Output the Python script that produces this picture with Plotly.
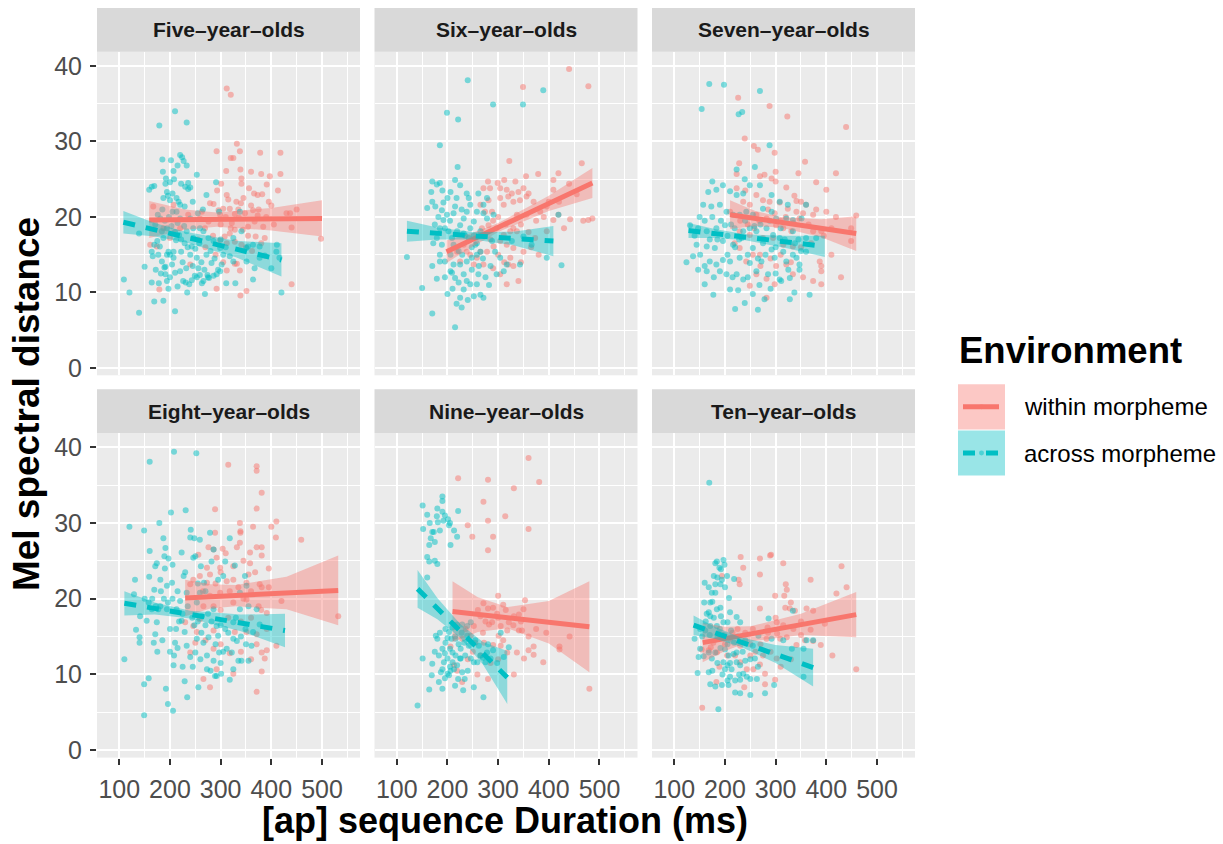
import plotly.graph_objects as go

W, H = 1223, 844
FONT = "Liberation Sans, Arial, sans-serif"
RED = "248,118,109"
CYAN = "0,191,196"

# ---------------- data ----------------
panel_titles = ["Five\u2013year\u2013olds", "Six\u2013year\u2013olds", "Seven\u2013year\u2013olds",
                "Eight\u2013year\u2013olds", "Nine\u2013year\u2013olds", "Ten\u2013year\u2013olds"]
legend_labels = ["within morpheme", "across morpheme"]
x_ticks = [100, 200, 300, 400, 500]
y_ticks = [0, 10, 20, 30, 40]

five_within = [(312,37.0),(320,36.2),(332,29.7),(292,28.7),(320,27.8),(325,27.8),(338,28.7),(378,28.5),(418,28.5),(311,26.1),(339,26.3),(341,25.1),(341,24.4),(380,25.7),(397,25.4),(418,25.7),(301,24.4),(293,23.5),(312,22.9),(315,22.3),(331,22.0),(340,21.8),(356,23.8),(366,23.1),(373,22.9),(382,23.0),(391,24.3),(413,23.5),(279,21.8),(286,21.7),(296,20.9),(305,21.1),(318,21.1),(328,20.4),(336,19.9),(348,20.5),(364,20.9),(373,20.2),(367,19.4),(384,18.7),(354,18.7),(344,18.3),(328,18.3),(318,17.8),(308,17.4),(299,16.9),(312,16.5),(328,16.7),(341,16.3),(354,17.5),(369,17.4),(387,17.2),(430,20.5),(437,20.5),(450,21.0),(440,18.6),(498,17.1),(440,11.1),(339,9.6),(351,10.2),(292,10.5),(179,10.4),(240,13.7),(328,13.8),(332,13.8),(338,12.9),(312,12.9),(299,20.3),(276,19.4),(263,20.7),(236,20.3),(220,18.5),(207,21.6),(167,21.4),(161,16.3),(174,16.1),(187,18.5),(200,17.2),(259,19.8),(269,18.5),
               (300,19.0),(310,20.0),(322,19.2),(335,21.0),(345,22.5),(360,21.5),(375,21.0),(390,20.0),(405,19.0),(350,16.0),(362,15.5),(380,16.5),(395,22.0),(285,17.5),(270,16.0),(255,17.0),(290,15.0),(305,14.0),(320,18.5),(360,26.0),(400,21.5)]
five_across = [(109,11.7),(120,10.0),(139,7.3),(139,17.8),(150,13.4),(159,23.6),(164,24.0),(169,24.1),(164,11.3),(169,8.8),(179,32.1),(185,27.6),(187,8.9),(189,13.3),(191,13.4),(194,11.5),(197,10.5),(207,26.1),(233,32.5),(210,34.0),(210,7.5),(220,28.2),(224,27.9),(227,27.4),(233,26.8),(222,24.4),(236,24.5),(253,25.6),(236,23.7),(240,23.9),(196,22.8),(200,22.2),(205,20.7),(213,22.5),(217,22.0),(177,15.0),(180,16.1),(187,17.2),(184,18.1),(194,18.5),(197,15.4),(200,15.0),(207,14.6),(204,13.7),(210,12.6),(220,12.8),(226,11.5),(231,11.3),(234,10.0),(238,11.1),(243,11.6),(249,12.2),(253,12.0),(259,12.3),(263,11.2),(266,11.5),(269,9.8),(274,12.3),(277,11.9),(286,12.2),(292,12.4),(299,12.8),(302,13.7),(311,11.2),(329,11.2),(325,14.1),(338,20.7),(354,16.1),(364,11.7),(367,13.2),(400,13.2),(411,16.3),(420,10.0),(410,15.4),(416,14.6),(272,22.9),(291,24.6),(297,20.7),(259,18.5),(233,18.1),(246,17.2),(253,14.6),(256,13.2),(272,15.0),(282,13.9),(243,16.1),(229,16.5),(222,15.4),(218,17.6),(176,20.3),(171,19.0),(181,19.8),(187,22.5),(194,23.3),(192,25.1),(191,24.4),(200,24.6),(205,23.1),(213,20.7),(220,19.8),(175,16.8),(169,16.3),(164,15.4),(166,14.8),(184,14.1),(191,12.4),(194,15.0),(207,15.4),(212,16.9),(220,21.6),(229,21.4),(240,19.8),(246,18.5),(266,18.1),(276,17.2),(286,16.8),(299,15.9),(325,17.2),(341,18.1),(351,15.9),(364,16.3),(377,16.1),(387,14.9),(377,14.6),(351,14.1),(305,15.0),
               (185,21.0),(190,19.5),(198,20.0),(203,18.8),(210,18.0),(215,19.2),(222,17.0),(228,18.8),(235,16.0),(240,15.0),(245,13.5),(250,15.8),(258,16.5),(262,14.0),(268,13.0),(275,12.0),(280,15.5),(288,14.5),(295,13.0),(300,17.0),(310,16.0),(318,14.8),(182,12.5),(178,11.2),(172,13.0),(186,26.0),(202,27.5),(208,25.0),(215,26.8),(230,24.0),(245,22.0),(255,20.5),(265,21.0),(200,12.0),(215,10.8),(225,14.0),(232,13.2)]

six_within = [(440,39.6),(478,37.3),(349,37.2),(322,27.4),(465,27.1),(419,25.8),(379,25.7),(409,24.9),(355,25.4),(299,24.5),(312,24.9),(334,24.7),(280,24.7),(271,23.8),(284,23.8),(304,23.8),(317,23.6),(327,23.1),(340,23.3),(350,23.8),(360,23.1),(304,22.5),(320,22.7),(330,22.0),(343,22.2),(356,22.7),(370,22.0),(409,23.6),(440,24.4),(281,22.2),(265,21.6),(274,20.7),(288,20.7),(311,21.6),(337,20.3),(356,20.3),(383,20.7),(396,21.4),(419,20.3),(442,19.7),(430,18.5),(409,19.6),(468,19.5),(478,19.6),(486,19.8),(268,18.5),(281,18.9),(297,18.5),(311,17.6),(324,18.1),(337,18.1),(350,15.4),(330,15.9),(317,16.3),(304,16.8),(291,16.1),(278,15.4),(265,15.4),(252,13.7),(271,13.7),(290,13.2),(304,12.4),(317,11.1),(340,11.5),(324,14.6),(320,13.7),(258,14.6),(245,15.0),(225,14.1),(219,15.4),(232,16.3),(238,15.4),(373,17.2),(396,18.1),
              (290,19.5),(300,20.0),(315,19.0),(330,18.5),(345,19.0),(360,18.0),(375,19.5),(390,20.0),(400,22.0),(285,17.0),(300,15.0),(312,14.0),(330,13.5),(345,14.0),(365,16.0),(380,15.0),(420,22.0),(455,23.0)]
six_across = [(120,14.7),(150,10.6),(170,7.2),(215,5.4),(185,29.5),(199,33.8),(221,32.9),(240,38.1),(290,34.9),(349,34.9),(389,36.8),(220,26.6),(170,24.7),(179,24.3),(168,23.3),(160,21.2),(170,22.0),(176,21.4),(189,20.9),(192,21.9),(206,23.3),(215,24.9),(225,24.2),(238,23.1),(242,22.5),(199,20.3),(192,19.6),(185,18.5),(179,17.2),(172,16.5),(189,16.3),(185,15.0),(170,13.5),(179,11.8),(185,14.1),(195,14.1),(206,12.8),(209,12.6),(215,11.9),(222,11.3),(225,9.3),(232,10.4),(238,11.5),(245,11.1),(252,9.5),(258,11.1),(265,9.7),(271,9.3),(261,12.4),(248,13.0),(232,12.4),(225,13.7),(212,13.7),(229,15.0),(238,14.1),(248,14.6),(258,15.0),(265,15.4),(212,16.3),(219,18.1),(225,18.9),(232,19.8),(238,20.7),(245,21.6),(252,19.4),(258,20.7),(265,18.1),(271,20.5),(278,19.8),(291,20.3),(261,23.1),(271,21.6),(278,22.5),(288,16.8),(294,15.4),(297,12.4),(304,14.6),(311,12.8),(317,13.7),(327,16.8),(343,13.7),(350,17.4),(366,16.3),(396,14.6),(419,20.3),(425,13.6),(215,21.4),(202,18.1),(209,17.2),(242,17.2),(255,16.3),(206,15.0),
              (175,19.0),(182,20.0),(195,18.5),(205,19.5),(212,20.5),(218,22.5),(228,21.0),(235,17.5),(245,18.5),(252,17.5),(258,16.5),(262,13.5),(270,14.5),(275,12.0),(282,11.0),(285,13.5),(195,12.0),(200,9.8),(210,10.5),(218,8.5),(228,8.0),(240,9.0),(248,16.0),(232,17.8),(222,15.5),(200,22.5),(190,23.5),(185,24.5)]

seven_within = [(226,35.8),(288,34.7),(323,33.3),(439,31.9),(239,30.4),(257,29.4),(265,28.9),(298,28.5),(228,27.1),(358,27.3),(419,25.8),(345,25.8),(223,25.7),(269,25.4),(278,25.6),(292,25.1),(300,24.7),(321,23.9),(380,24.6),(400,23.6),(337,22.8),(341,22.1),(360,21.6),(374,20.3),(262,22.9),(275,22.2),(288,22.0),(308,21.9),(324,21.1),(341,20.7),(354,20.5),(400,20.7),(419,20.0),(459,20.2),(449,18.5),(449,16.8),(223,23.8),(236,22.0),(249,21.6),(262,20.3),(282,19.8),(301,18.9),(315,18.5),(331,18.1),(347,19.8),(374,18.1),(390,18.1),(229,18.1),(249,17.6),(275,17.2),(295,17.2),(315,16.3),(334,16.1),(387,14.1),(390,13.5),(390,12.8),(410,15.0),(429,12.0),(390,11.1),(374,11.5),(354,12.0),(334,12.4),(321,13.7),(301,13.5),(282,11.8),(262,12.4),(249,10.9),(298,11.1),(282,9.3),(269,15.0),(229,15.9),(219,16.5),(242,14.1),(210,20.7),
                (230,19.5),(245,19.0),(258,18.5),(268,19.5),(285,21.0),(298,20.5),(310,19.5),(320,20.0),(335,19.2),(350,22.0),(365,19.0),(380,21.0),(395,17.5),(410,18.5),(255,15.0),(270,13.5),(290,14.5),(310,15.0),(330,14.0),(350,16.0),(370,16.5),(240,23.5),(300,26.0)]
seven_across = [(169,37.6),(198,37.5),(269,36.7),(154,34.3),(227,33.6),(234,33.9),(288,29.5),(259,26.6),(223,26.3),(239,25.0),(175,24.7),(167,23.3),(183,23.6),(196,24.2),(210,23.4),(223,22.9),(236,23.1),(249,24.2),(269,24.2),(292,22.9),(308,22.0),(324,21.6),(360,21.6),(157,21.6),(173,21.4),(190,21.6),(203,20.7),(216,20.3),(229,20.3),(242,20.7),(255,20.3),(275,21.1),(292,20.7),(301,19.8),(321,19.8),(334,19.6),(351,19.8),(131,18.9),(147,18.5),(164,18.1),(183,18.5),(200,18.9),(219,18.5),(236,18.1),(249,18.5),(262,18.1),(282,18.5),(295,17.6),(308,17.2),(334,18.1),(360,17.2),(380,17.2),(144,16.3),(164,16.1),(180,15.9),(196,16.8),(216,16.3),(233,17.2),(255,15.9),(275,16.5),(292,15.7),(315,15.4),(334,15.0),(124,14.0),(137,14.8),(151,15.0),(170,14.1),(183,13.7),(196,14.3),(210,14.1),(229,14.6),(249,13.9),(272,14.1),(298,14.6),(321,14.1),(347,13.7),(147,13.0),(164,12.8),(190,12.8),(203,12.4),(223,12.4),(236,11.7),(262,12.8),(285,12.4),(308,11.7),(328,11.9),(347,13.0),(367,9.7),(160,11.1),(177,9.7),(210,10.4),(226,10.3),(255,9.8),(278,9.1),(265,7.7),(239,8.6),(220,7.8),(328,9.1),(337,10.0),(311,11.5),(341,14.6),(360,15.4),
                (140,17.5),(150,20.0),(160,19.5),(170,17.0),(175,20.0),(185,17.0),(192,19.5),(205,17.5),(212,19.0),(220,16.0),(228,17.0),(240,19.5),(245,15.0),(258,18.8),(265,14.5),(270,19.0),(280,15.0),(288,19.5),(300,16.0),(310,18.5),(318,17.0),(325,13.0),(338,16.5),(345,17.0),(350,15.5),(205,15.0),(215,12.0),(245,12.0),(268,11.0),(290,10.5),(300,12.5),(160,13.5),(178,12.0)]

eight_within = [(315,37.7),(371,37.5),(371,36.9),(381,34.0),(371,31.9),(289,31.8),(338,30.0),(364,29.5),(410,30.2),(400,29.5),(339,28.9),(339,28.7),(289,28.7),(459,27.8),(409,28.1),(338,27.4),(371,26.8),(381,26.8),(358,26.1),(381,25.7),(332,26.8),(304,26.6),(286,26.5),(276,26.8),(256,25.8),(292,25.4),(273,24.1),(299,24.1),(325,24.3),(358,24.7),(368,23.5),(355,23.2),(279,23.2),(259,23.0),(246,22.5),(240,21.9),(273,22.1),(312,22.3),(325,22.5),(351,22.1),(377,21.9),(381,21.5),(299,20.8),(279,20.4),(286,19.0),(266,19.0),(325,19.5),(351,19.9),(420,19.7),(532,17.7),(230,16.9),(246,16.4),(253,15.6),(286,15.8),(328,15.6),(351,15.6),(371,15.3),(391,18.1),(391,16.0),(371,14.0),(381,12.9),(391,13.2),(387,12.1),(318,12.8),(286,13.4),(292,10.7),(266,9.4),(279,8.3),(371,7.7),(381,10.4),(410,13.8),(325,10.1),(250,14.2),(240,12.9),(259,17.3),
                (290,22.0),(300,23.5),(318,21.0),(335,21.5),(345,20.0),(360,21.0),(375,19.0),(395,21.5),(265,21.0),(300,18.5),(315,17.5),(340,17.0),(360,17.5),(380,18.5),(270,14.5),(300,14.0),(340,13.0),(360,12.0),(310,26.0),(345,25.0),(395,24.0)]
eight_across = [(110,12.0),(120,29.5),(129,20.6),(131,22.5),(133,15.9),(140,14.9),(140,14.2),(149,29.0),(149,8.7),(149,4.6),(158,9.5),(160,38.1),(160,26.3),(159,22.9),(164,18.6),(171,24.3),(169,21.2),(171,15.3),(174,16.9),(179,30.0),(181,22.5),(187,28.0),(191,26.7),(189,25.6),(192,8.1),(196,6.1),(197,25.3),(202,31.4),(206,5.2),(208,39.4),(204,22.1),(208,12.5),(207,11.2),(212,16.0),(213,18.6),(220,19.7),(223,26.1),(227,23.0),(229,9.1),(231,31.7),(234,7.0),(241,29.1),(240,28.1),(246,25.4),(250,25.6),(248,28.0),(252,39.2),(253,19.5),(253,14.7),(256,8.3),(259,27.8),(261,24.3),(263,17.7),(267,22.1),(273,12.5),(276,14.9),(279,28.7),(282,24.9),(286,26.5),(289,9.8),(292,16.4),(295,22.5),(297,12.9),(301,10.1),(305,23.0),(309,24.9),(312,13.4),(318,28.0),(318,9.3),(322,12.9),(325,16.9),(328,24.4),(332,14.4),(335,11.8),(338,18.6),(341,11.8),(348,23.0),(349,16.0),(355,11.8),(361,13.8),(364,15.6),(371,18.6),(377,16.6),(141,17.7),(154,17.1),(168,14.2),(181,19.0),(194,18.6),(200,16.0),(210,14.2),(223,17.1),(229,15.6),(233,13.8),(240,12.3),(250,12.9),(266,14.2),(273,10.7),(286,11.8),(295,15.1),(309,16.0),(325,10.7),(286,18.6),(259,20.8),(233,20.8),(194,21.7),(174,24.7),(292,9.8),(325,14.7),(355,19.0),(351,21.7),(338,20.8),(177,18.6),
                (150,20.0),(158,19.5),(165,20.0),(172,19.0),(182,21.0),(188,20.0),(196,19.5),(205,20.0),(215,21.0),(218,17.0),(225,18.0),(235,19.0),(244,17.5),(248,16.5),(255,17.0),(262,15.5),(270,16.5),(275,18.0),(282,17.0),(290,14.0),(300,16.5),(305,13.0),(315,15.5),(330,17.5),(340,15.0),(350,14.0),(200,13.0),(215,13.5),(225,11.0),(245,11.0),(260,12.0),(280,10.5),(300,11.5),(190,24.0),(205,24.5),(230,23.5),(255,22.0),(270,21.0),(185,14.5),(175,13.0)]

nine_within = [(360,38.6),(221,35.9),(280,35.7),(331,34.6),(381,35.4),(271,32.8),(280,30.3),(314,30.9),(240,29.7),(360,29.2),(249,28.2),(290,28.2),(280,26.4),(300,20.4),(310,19.2),(271,19.4),(280,18.7),(353,19.8),(350,18.6),(341,17.9),(298,18.0),(288,16.9),(331,17.7),(341,15.8),(347,15.8),(318,15.8),(301,15.1),(282,16.6),(252,16.4),(236,16.0),(229,14.7),(255,14.2),(272,14.2),(290,13.9),(305,13.8),(318,12.9),(337,12.9),(351,12.1),(360,13.2),(370,12.6),(370,13.7),(389,11.6),(421,13.7),(421,13.3),(441,15.0),(480,8.1),(331,10.0),(280,9.4),(259,10.0),(229,9.0),(219,10.5),(213,11.2),(206,13.7),(305,16.4),(321,16.9),(265,17.7),(246,15.1),
               (260,18.5),(275,17.0),(290,18.8),(300,17.5),(315,18.5),(330,16.5),(345,17.0),(360,15.0),(375,16.0),(395,15.5),(250,13.0),(265,12.5),(285,11.5),(300,12.0),(310,14.5),(240,12.0),(270,15.5)]
nine_across = [(141,5.9),(151,32.3),(152,29.2),(160,31.1),(164,27.1),(167,28.0),(170,28.8),(173,28.8),(180,31.9),(179,30.9),(181,30.1),(190,33.5),(190,32.9),(190,31.5),(192,30.3),(201,30.5),(203,29.7),(213,29.0),(219,28.2),(221,31.6),(206,27.1),(160,25.5),(164,24.9),(180,24.6),(160,22.8),(151,12.1),(164,8.0),(169,9.9),(170,11.4),(177,15.1),(180,14.7),(183,12.5),(187,10.3),(190,8.1),(190,13.4),(193,11.6),(196,14.2),(200,12.1),(203,9.9),(205,13.4),(208,14.7),(210,11.6),(213,10.7),(216,12.5),(219,11.2),(221,9.4),(225,12.1),(229,10.3),(231,7.9),(234,9.4),(226,13.4),(233,14.2),(239,15.1),(246,12.1),(252,8.3),(252,11.6),(259,11.6),(265,12.5),(271,7.0),(275,11.6),(278,12.9),(285,12.1),(305,15.5),(311,12.3),(321,13.6),(196,16.0),(203,15.6),(210,16.2),(219,16.6),(229,16.6),(239,16.4),(246,16.9),(216,14.7),(210,12.9),(226,12.1),(190,10.7),(200,10.1),(206,10.5),
               (175,13.0),(185,15.5),(195,12.8),(200,14.8),(205,11.0),(215,15.0),(222,14.0),(228,15.5),(235,12.5),(242,13.8),(255,14.5),(262,13.8),(270,12.2),(280,14.0),(290,13.2),(298,11.5),(183,9.0),(195,9.5),(215,8.5),(240,10.5),(175,27.5),(185,29.0),(195,31.0),(205,30.0),(165,30.0),(175,25.0)]

ten_within = [(291,25.8),(289,25.7),(231,25.5),(269,25.3),(315,24.7),(430,24.3),(236,24.1),(269,23.2),(369,22.5),(227,22.5),(229,21.9),(194,23.0),(440,21.5),(320,21.9),(299,20.4),(317,20.4),(322,21.2),(420,20.7),(330,19.5),(328,18.7),(361,18.7),(319,18.8),(269,18.7),(374,18.4),(338,18.4),(397,16.7),(302,16.9),(284,16.2),(303,15.4),(350,15.2),(369,15.9),(358,14.5),(374,14.4),(389,13.9),(412,12.5),(459,10.7),(341,13.9),(322,14.9),(309,14.7),(282,14.7),(250,14.0),(230,13.8),(210,14.7),(191,15.1),(177,14.2),(172,13.6),(154,13.3),(168,13.2),(184,12.9),(204,12.5),(230,11.6),(243,10.7),(256,10.7),(269,11.3),(279,10.1),(299,9.3),(279,8.7),(238,8.3),(189,11.0),(183,9.0),(155,5.6),(250,12.5),(302,12.1),
              (200,14.0),(215,15.5),(225,16.0),(240,15.5),(255,16.0),(270,14.0),(285,15.5),(300,17.5),(315,16.5),(335,16.0),(350,17.0),(260,13.0),(275,12.5),(290,13.0),(220,12.5),(310,11.0),(330,12.0)]
ten_across = [(169,35.3),(181,24.7),(184,24.9),(192,23.9),(197,25.1),(199,24.5),(189,24.1),(204,23.0),(218,22.6),(194,22.5),(181,21.9),(191,21.9),(160,22.1),(168,21.5),(174,20.8),(181,20.8),(159,19.5),(171,19.5),(175,19.6),(164,18.0),(168,18.2),(171,17.7),(184,18.6),(191,18.8),(192,17.7),(208,20.1),(210,18.2),(205,16.9),(223,17.6),(230,16.9),(151,16.0),(161,15.8),(171,16.4),(184,16.4),(197,16.9),(140,14.7),(151,13.4),(148,12.3),(158,12.4),(168,12.9),(174,12.1),(181,12.9),(191,13.5),(200,13.3),(207,12.5),(217,12.7),(223,12.9),(197,11.6),(205,11.2),(213,10.7),(223,11.6),(230,11.2),(236,10.1),(243,9.7),(250,9.4),(263,9.4),(230,9.3),(220,9.2),(205,9.2),(200,10.7),(210,9.7),(207,8.6),(194,8.6),(187,5.4),(171,8.7),(181,8.4),(146,10.2),(168,10.3),(220,7.6),(230,7.5),(250,7.3),(279,7.5),(297,8.6),(286,17.4),(334,18.4),(315,14.5),(332,13.4),(355,13.4),(361,14.5),(374,14.5),(355,9.7),(259,12.1),(266,15.1),(292,14.7),
              (155,15.0),(162,17.0),(170,15.2),(178,17.5),(185,14.8),(190,16.0),(198,15.2),(205,14.0),(212,15.8),(218,14.2),(225,15.0),(235,13.0),(240,14.5),(250,12.0),(255,13.8),(265,11.0),(175,10.5),(185,11.5),(195,10.0),(210,11.5),(228,10.0),(240,11.8),(178,23.0),(185,22.8),(200,21.5)]

# fitted lines (end points) and confidence bands (read at a few x positions)
five_within_fit = dict(x=[159, 500], y=[19.6, 19.8], bx=[159, 230, 292, 400, 500], lo=[17.2, 18.3, 18.7, 18.2, 17.4], hi=[22.1, 21.0, 20.6, 21.2, 22.2])
five_across_fit = dict(x=[108, 420], y=[19.3, 14.3], bx=[108, 170, 230, 330, 420], lo=[17.8, 17.4, 16.65, 14.65, 12.1], hi=[20.8, 19.2, 18.05, 16.85, 16.5])
six_within_fit = dict(x=[198, 486], y=[15.4, 24.5], bx=[198, 250, 300, 400, 486], lo=[13.9, 16.1, 18.0, 20.8, 22.5], hi=[16.9, 17.9, 19.2, 22.8, 26.5])
six_across_fit = dict(x=[120, 409], y=[18.1, 16.8], bx=[120, 180, 250, 330, 409], lo=[16.7, 17.0, 17.0, 16.25, 14.8], hi=[19.5, 18.6, 18.0, 18.05, 18.8])
seven_within_fit = dict(x=[210, 459], y=[20.3, 17.8], bx=[210, 260, 310, 390, 459], lo=[18.4, 18.8, 18.6, 17.3, 15.5], hi=[22.2, 20.8, 20.0, 19.7, 20.1])
seven_across_fit = dict(x=[128, 397], y=[18.2, 16.1], bx=[128, 180, 240, 320, 397], lo=[17.2, 17.2, 16.9, 15.9, 14.7], hi=[19.2, 18.4, 17.7, 17.5, 17.5])
eight_within_fit = dict(x=[230, 532], y=[20.1, 21.1], bx=[230, 280, 330, 430, 532], lo=[17.7, 18.7, 19.0, 18.6, 16.5], hi=[22.5, 21.9, 21.8, 22.9, 25.7])
eight_across_fit = dict(x=[110, 427], y=[19.4, 15.8], bx=[110, 170, 240, 340, 427], lo=[17.8, 17.9, 17.4, 15.7, 13.6], hi=[21.0, 19.5, 18.4, 17.9, 18.0])
nine_within_fit = dict(x=[210, 480], y=[18.3, 16.3], bx=[210, 260, 318, 400, 480], lo=[14.3, 15.6, 16.1, 14.1, 10.3], hi=[22.3, 20.2, 18.9, 19.7, 22.3])
nine_across_fit = dict(x=[141, 318], y=[21.3, 9.6], bx=[141, 180, 225, 270, 318], lo=[18.8, 17.3, 14.85, 11.3, 6.1], hi=[23.8, 20.1, 16.65, 14.3, 13.1])
ten_within_fit = dict(x=[156, 459], y=[14.2, 17.9], bx=[156, 200, 250, 350, 459], lo=[11.6, 13.1, 14.35, 15.2, 14.9], hi=[16.8, 16.3, 16.35, 18.0, 20.9])
ten_across_fit = dict(x=[138, 374], y=[16.5, 10.9], bx=[138, 180, 230, 300, 374], lo=[15.2, 14.7, 13.7, 11.5, 8.4], hi=[17.8, 16.3, 14.9, 13.9, 13.4])

panel_points = [(five_within, five_across), (six_within, six_across), (seven_within, seven_across),
                (eight_within, eight_across), (nine_within, nine_across), (ten_within, ten_across)]
panel_fits = [(five_within_fit, five_across_fit), (six_within_fit, six_across_fit), (seven_within_fit, seven_across_fit),
              (eight_within_fit, eight_across_fit), (nine_within_fit, nine_across_fit), (ten_within_fit, ten_across_fit)]

# ---------------- layout geometry (pixels) ----------------
col_px = [(97, 360), (374.5, 637.5), (652, 915)]
row_px = [(52, 378), (436, 763)]
strip_px = [(8, 52), (392, 436)]
X_RANGE = [56, 575]
Y_RANGE = [-0.98, 41.9]
TICK_SIZE = 25

def px_x(p):
    return p / W

def px_y(p):
    return 1 - p / H

fig = go.Figure()

for i in range(6):
    r, c = divmod(i, 3)
    ax = "" if i == 0 else str(i + 1)
    xa, ya = "x" + ax, "y" + ax
    within, across = panel_points[i]
    wfit, afit = panel_fits[i]
    for pts, col in ((within, RED), (across, CYAN)):
        fig.add_trace(go.Scatter(
            x=[p[0] for p in pts], y=[p[1] for p in pts], mode="markers",
            marker=dict(size=6, color=f"rgba({col},0.5)", line=dict(width=0)),
            xaxis=xa, yaxis=ya, showlegend=False, hoverinfo="skip"))
    for fit, col, dash in ((wfit, RED, "solid"), (afit, CYAN, "12px,11px")):
        fig.add_trace(go.Scatter(
            x=fit["bx"] + fit["bx"][::-1], y=fit["hi"] + fit["lo"][::-1],
            fill="toself", fillcolor=f"rgba({col},0.4)", mode="lines",
            line=dict(width=0), xaxis=xa, yaxis=ya, showlegend=False, hoverinfo="skip"))
        fig.add_trace(go.Scatter(
            x=fit["x"], y=fit["y"], mode="lines",
            line=dict(color=f"rgb({col})", width=5, dash=dash),
            xaxis=xa, yaxis=ya, showlegend=False, hoverinfo="skip"))

    x0, x1 = col_px[c]
    y0, y1 = row_px[r]
    xaxis = dict(domain=[px_x(x0), px_x(x1)], range=X_RANGE, anchor=ya,
                 tickvals=x_ticks, showgrid=True, gridcolor="white", gridwidth=2.2,
                 zeroline=False, showline=False,
                 minor=dict(tickvals=[150, 250, 350, 450, 550], showgrid=True,
                            gridcolor="white", gridwidth=1.1, ticks=""),
                 tickfont=dict(size=TICK_SIZE, color="#4D4D4D", family=FONT))
    yaxis = dict(domain=[px_y(y1), px_y(y0)], range=Y_RANGE, anchor=xa,
                 tickvals=y_ticks, showgrid=True, gridcolor="white", gridwidth=2.2,
                 zeroline=False, showline=False,
                 minor=dict(tickvals=[5, 15, 25, 35], showgrid=True,
                            gridcolor="white", gridwidth=1.1, ticks=""),
                 tickfont=dict(size=TICK_SIZE, color="#4D4D4D", family=FONT))
    if r == 1:
        xaxis.update(ticks="outside", ticklen=6, tickwidth=2, tickcolor="#333333",
                     showticklabels=True, ticklabelstandoff=3)
    else:
        xaxis.update(ticks="", showticklabels=False)
    if c == 0:
        yaxis.update(ticks="outside", ticklen=6, tickwidth=2, tickcolor="#333333",
                     showticklabels=True, ticklabelstandoff=3)
    else:
        yaxis.update(ticks="", showticklabels=False)
    fig.update_layout({"xaxis" + ax: xaxis, "yaxis" + ax: yaxis})

    # strip
    s0, s1 = strip_px[r]
    fig.add_shape(type="rect", xref="paper", yref="paper",
                  x0=px_x(x0), x1=px_x(x1), y0=px_y(s1), y1=px_y(s0),
                  fillcolor="#D9D9D9", line=dict(width=0), layer="below")
    fig.add_annotation(text="<b>" + panel_titles[i] + "</b>", xref="paper", yref="paper",
                       x=px_x((x0 + x1) / 2), y=px_y((s0 + s1) / 2), showarrow=False,
                       xanchor="center", yanchor="middle",
                       font=dict(size=21, color="#1A1A1A", family=FONT))

# axis titles
fig.add_annotation(text="<b>[ap] sequence Duration (ms)</b>", xref="paper", yref="paper",
                   x=px_x(505), y=px_y(826), showarrow=False, xanchor="center", yanchor="middle",
                   font=dict(size=36, color="black", family=FONT))
fig.add_annotation(text="<b>Mel spectral distance</b>", xref="paper", yref="paper",
                   x=px_x(26), y=px_y(407), showarrow=False, xanchor="center", yanchor="middle",
                   textangle=-90, font=dict(size=37, color="black", family=FONT))

# legend (drawn manually, ggplot style)
fig.add_annotation(text="<b>Environment</b>", xref="paper", yref="paper",
                   x=px_x(957), y=px_y(353), showarrow=False, xanchor="left", yanchor="middle",
                   font=dict(size=36.5, color="black", family=FONT))
key_rows = [(387, 432.5), (433.5, 479)]
for k, (col, dash) in enumerate(((RED, "solid"), (CYAN, "12px,11px"))):
    t, b = key_rows[k]
    mid = (t + b) / 2
    fig.add_shape(type="rect", xref="paper", yref="paper", x0=px_x(958), x1=px_x(1005),
                  y0=px_y(b), y1=px_y(t), fillcolor=f"rgba({col},0.4)", line=dict(width=0))
    fig.add_shape(type="circle", xref="paper", yref="paper", x0=px_x(979), x1=px_x(984),
                  y0=px_y(mid + 2.5), y1=px_y(mid - 2.5), fillcolor=f"rgba({col},0.5)", line=dict(width=0))
    fig.add_shape(type="line", xref="paper", yref="paper", x0=px_x(963), x1=px_x(999),
                  y0=px_y(mid), y1=px_y(mid), line=dict(color=f"rgb({col})", width=5, dash=dash))
    fig.add_annotation(text=legend_labels[k], xref="paper", yref="paper",
                       x=px_x(1022), y=px_y(mid), showarrow=False, xanchor="left", yanchor="middle",
                       font=dict(size=24, color="black", family=FONT))

fig.update_layout(width=W, height=H, margin=dict(l=0, r=0, t=0, b=0),
                  paper_bgcolor="white", plot_bgcolor="#EBEBEB",
                  font=dict(family=FONT), showlegend=False)

fig.write_html("out.html")
